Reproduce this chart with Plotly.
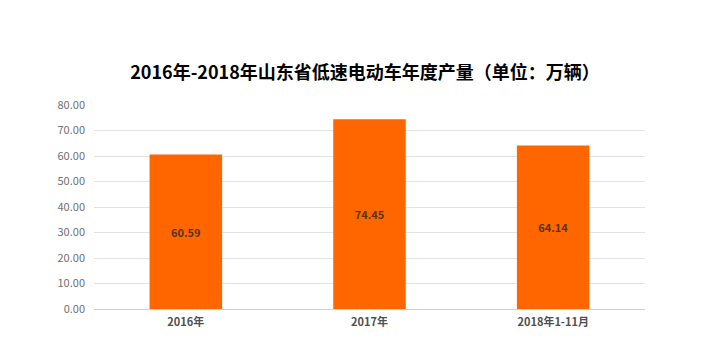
import plotly.graph_objects as go

categories = ["2016年", "2017年", "2018年1-11月"]
values = [60.59, 74.45, 64.14]
value_labels = ["60.59", "74.45", "64.14"]
y_ticks = [0, 10, 20, 30, 40, 50, 60, 70, 80]
y_tick_labels = ["0.00", "10.00", "20.00", "30.00", "40.00", "50.00", "60.00", "70.00", "80.00"]
title_text = "2016年-2018年山东省低速电动车年度产量（单位：万辆）"

FONT = "Noto Sans CJK SC"
W, H = 712, 347  # page body has an 8px margin

fig = go.Figure(go.Bar(
    x=categories,
    y=values,
    text=value_labels,
    textposition="inside",
    insidetextanchor="middle",
    textfont=dict(family=FONT, size=11, color="#5a3418", weight="bold"),
    marker=dict(color="#FF6600", line=dict(width=0)),
    width=0.395,
))

fig.update_layout(
    width=W, height=H,
    margin=dict(l=86, r=75, t=97, b=46),
    paper_bgcolor="white", plot_bgcolor="white",
    showlegend=False,
    font=dict(family=FONT),
    title=dict(text=title_text, x=357 / W, xanchor="center", y=1 - 65 / H, yanchor="middle",
               font=dict(family=FONT, size=18, color="#000000", weight="bold")),
    xaxis=dict(showgrid=False, showline=False, ticks="", ticklabelstandoff=5,
               tickfont=dict(family=FONT, size=11, color="#505050", weight="bold")),
    yaxis=dict(range=[0, 80], tickvals=y_ticks, ticktext=y_tick_labels,
               showgrid=True, gridcolor="#e3e3e3", gridwidth=1,
               zeroline=True, zerolinecolor="#d0d0d0", zerolinewidth=1,
               showline=False, ticks="", ticklabelstandoff=8,
               tickfont=dict(family=FONT, size=11, color="#707070")),
)

fig.write_html("out.html")
